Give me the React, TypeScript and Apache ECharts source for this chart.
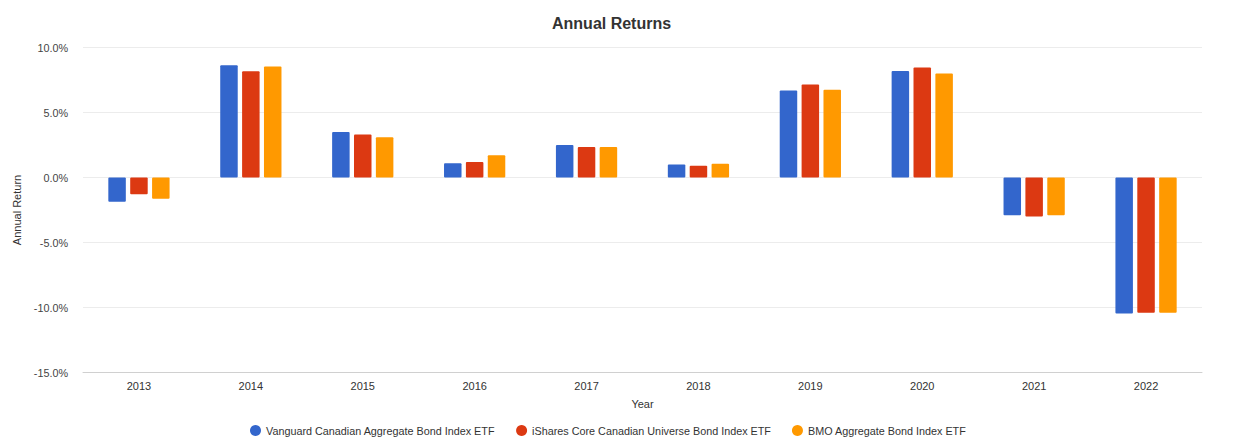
import React, { useEffect, useRef } from "react";
import * as echarts from "echarts";

const years = ["2013", "2014", "2015", "2016", "2017", "2018", "2019", "2020", "2021", "2022"];
const seriesNames = [
  "Vanguard Canadian Aggregate Bond Index ETF",
  "iShares Core Canadian Universe Bond Index ETF",
  "BMO Aggregate Bond Index ETF",
];
const vanguard = [-1.87, 8.64, 3.5, 1.1, 2.5, 1.0, 6.7, 8.2, -2.9, -10.46];
const ishares = [-1.28, 8.18, 3.3, 1.2, 2.35, 0.9, 7.15, 8.47, -3.0, -10.4];
const bmo = [-1.64, 8.54, 3.1, 1.72, 2.35, 1.05, 6.75, 8.0, -2.9, -10.4];
const colors = ["#3366cc", "#dc3912", "#ff9900"];

export default function App() {
  const ref = useRef<HTMLDivElement>(null);
  useEffect(() => {
    if (!ref.current) return;
    const chart = echarts.init(ref.current, null, { renderer: "svg" });
    const font = "Liberation Sans, Arial, sans-serif";
    const data = [vanguard, ishares, bmo];
    chart.setOption({
      animation: false,
      textStyle: { fontFamily: font },
      title: {
        text: "Annual Returns",
        left: 547,
        top: 10,
        textStyle: { fontSize: 16, fontWeight: "bold", color: "#333", fontFamily: font },
      },
      legend: {
        bottom: 7,
        left: 245,
        icon: "circle",
        itemWidth: 11,
        itemHeight: 11,
        itemGap: 21,
        textStyle: { fontSize: 10.8, color: "#333", fontFamily: font },
        data: seriesNames,
      },
      grid: { left: 83, right: 49, top: 47.5, bottom: 75.5, containLabel: false },
      xAxis: {
        type: "category",
        data: years,
        name: "Year",
        nameLocation: "middle",
        nameGap: 26,
        nameTextStyle: { fontSize: 11, color: "#333", fontFamily: font },
        axisLine: { onZero: false, lineStyle: { color: "#d0d0d0", width: 1 } },
        axisTick: { show: false },
        axisLabel: { fontSize: 11, color: "#333", margin: 8, fontFamily: font },
      },
      yAxis: {
        type: "value",
        min: -15,
        max: 10,
        interval: 5,
        name: "Annual Return",
        nameLocation: "middle",
        nameGap: 55,
        nameRotate: 90,
        nameTextStyle: { fontSize: 11, color: "#333", fontFamily: font },
        axisLine: { show: false },
        axisTick: { show: false },
        axisLabel: {
          fontSize: 10.8,
          color: "#444",
          margin: 15,
          fontFamily: font,
          formatter: (v: number) => v.toFixed(1) + "%",
        },
        splitLine: { lineStyle: { color: "#ececec", width: 1 } },
      },
      series: seriesNames.map((n, i) => ({
        name: n,
        type: "bar",
        data: data[i],
        barWidth: 17.5,
        barGap: "25%",
        itemStyle: { color: colors[i], borderRadius: 1 },
      })),
    });
    return () => chart.dispose();
  }, []);
  return (
    <div
      ref={ref}
      style={{ position: "absolute", left: 0, top: 0, width: 1251, height: 448 }}
    />
  );
}
